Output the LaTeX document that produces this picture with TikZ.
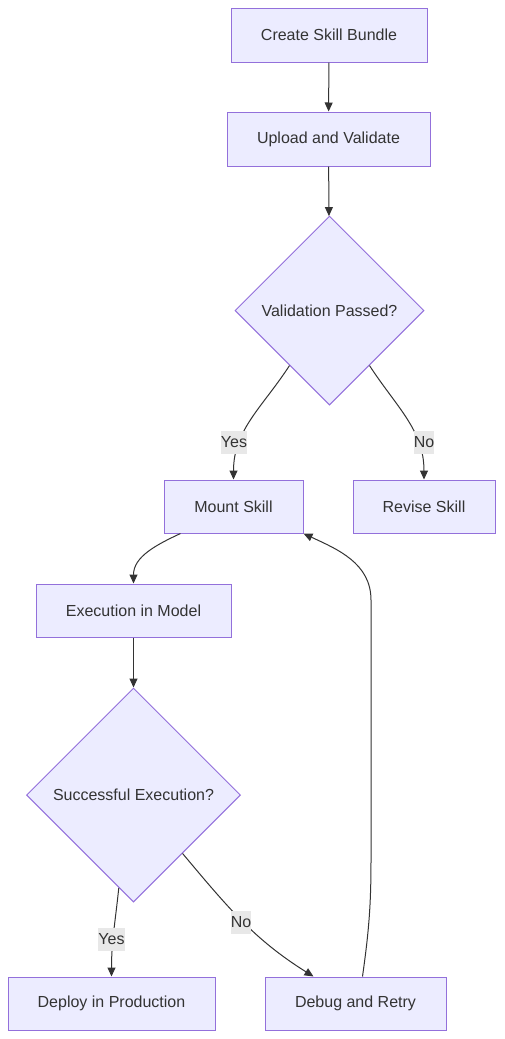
\documentclass[tikz,border=0pt]{standalone}
\usepackage{fontspec}
\setmainfont{Liberation Sans}
\usetikzlibrary{shapes.geometric,arrows.meta}
\definecolor{boxfill}{HTML}{ECECFF}
\definecolor{boxline}{HTML}{9370DB}
\definecolor{txt}{HTML}{333333}
\definecolor{lblbg}{HTML}{E8E8E8}
\tikzset{
  stepbox/.style={draw=boxline, fill=boxfill, line width=1pt, inner sep=0pt, text=txt, font=\fontsize{16}{19}\selectfont},
  decide/.style={diamond, aspect=1, draw=boxline, fill=boxfill, line width=1pt, inner sep=0pt, text=txt, font=\fontsize{16}{19}\selectfont},
  edgelbl/.style={fill=lblbg, text=txt, inner xsep=0pt, inner ysep=0pt, minimum height=23pt, font=\fontsize{16}{19}\selectfont},
  flow/.style={draw=txt, line width=1pt, -{Triangle[length=9pt,width=8pt]}}
}
\begin{document}
\begin{tikzpicture}[x=1pt,y=-1pt]
\useasboundingbox (0,0) rectangle (504,1039);
\node[stepbox, minimum width=196, minimum height=54] (create) at (329,35) {Create Skill Bundle};
\node[stepbox, minimum width=203, minimum height=54] (upload) at (328.5,139) {Upload and Validate};
\node[decide, minimum size=189] (valid) at (329.5,310.5) {Validation Passed?};
\node[stepbox, minimum width=139, minimum height=53] (mount) at (233.5,506.5) {Mount Skill};
\node[stepbox, minimum width=142, minimum height=53] (revise) at (424,506.5) {Revise Skill};
\node[stepbox, minimum width=195, minimum height=53] (exec) at (133.5,610.5) {Execution in Model};
\node[decide, minimum size=214] (succ) at (133.5,795) {Successful Execution?};
\node[stepbox, minimum width=207, minimum height=53] (deploy) at (111.5,1003.5) {Deploy in Production};
\node[stepbox, minimum width=181, minimum height=53] (debug) at (355.5,1003.5) {Debug and Retry};

\coordinate (up1) at (371,860);
\coordinate (up2) at (371,600);

\draw[flow] (create) -- (upload);
\draw[flow] (upload) -- (valid);
\draw[flow] (valid.234) to[out=-123, in=90] (mount.north);
\draw[flow] (valid.306) to[out=-57, in=90] (revise.north);
\draw[flow] ([xshift=17pt]mount.south west) to[out=-155, in=90] (exec.north);
\draw[flow] (exec) -- (succ);
\draw[flow] (succ.261) to[out=-96, in=90] (deploy.north);
\draw[flow] (succ.310) to[out=-50, in=148] ([xshift=-42pt]debug.north);
\draw[flow] ([xshift=7pt]debug.north) to[out=82, in=-90] (up1) -- (up2) to[out=90, in=-25] (mount.south east);

\node[edgelbl] (lyes1) at (234,442.5) {Yes};
\node[edgelbl] (lno1) at (424,442.5) {No};
\node[edgelbl] (lyes2) at (111.5,939.5) {Yes};
\node[edgelbl] (lno2) at (241,922.5) {No};
\end{tikzpicture}
\end{document}
